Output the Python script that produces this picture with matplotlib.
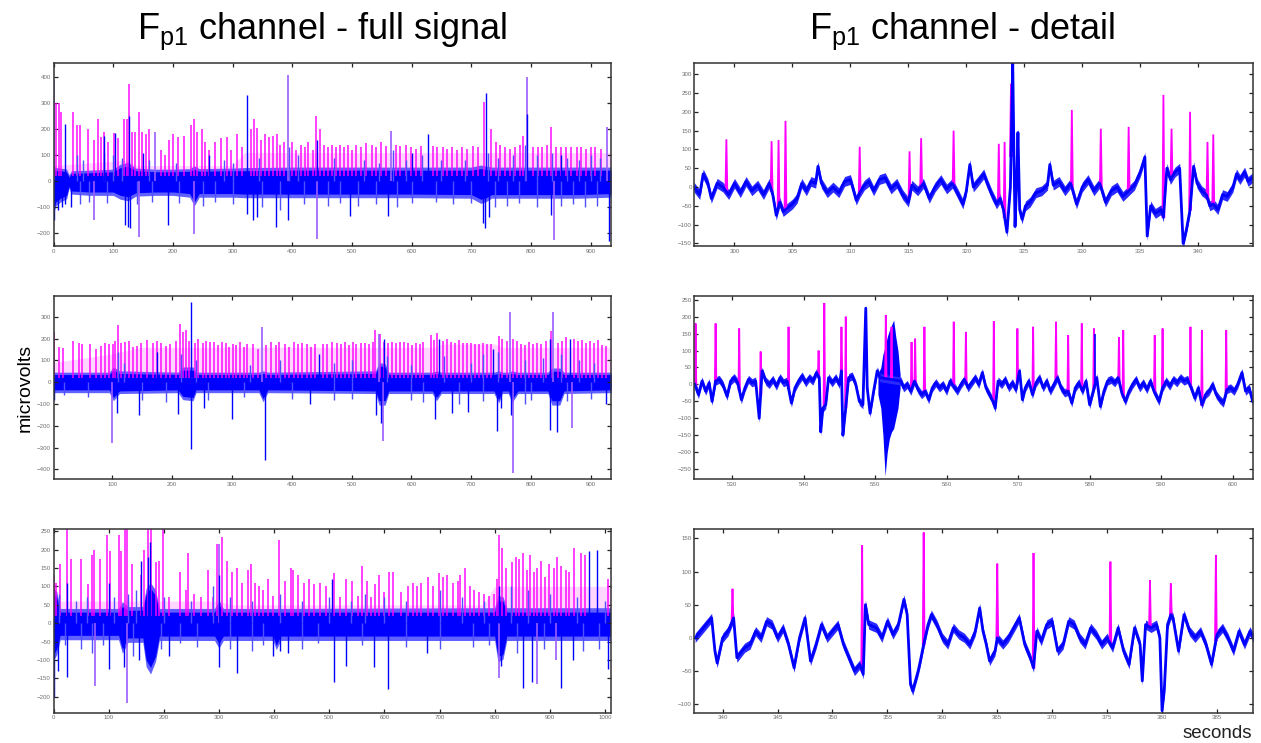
import numpy as np
import matplotlib
matplotlib.use("Agg")
import matplotlib.pyplot as plt

plt.rcParams['font.family'] = ['Liberation Sans', 'DejaVu Sans']
plt.rcParams['mathtext.fontset'] = 'custom'
plt.rcParams['mathtext.rm'] = 'Liberation Sans'
plt.rcParams['mathtext.it'] = 'Liberation Sans'

# ---------------- full-signal panel 1 (top left) ----------------
pk1_t = [5, 10, 13, 32, 39, 45, 58, 68, 74, 80, 84, 92, 102, 108, 118, 123, 127, 132, 137, 143,
         148, 155, 160, 180, 187, 193, 200, 209, 218, 231, 236, 241, 248, 254, 261, 271, 281, 291, 298, 308,
         316, 331, 336, 341, 348, 354, 361, 367, 374, 380, 386, 399, 406, 414, 421, 427, 434, 439, 446, 454,
         460, 467, 474, 480, 487, 494, 500, 507, 515, 524, 534, 540, 548, 557, 573, 581, 590, 599, 607, 615,
         635, 643, 652, 660, 668, 676, 685, 693, 703, 712, 721, 733, 741, 748, 756, 765, 773, 781, 787, 803,
         811, 819, 826, 834, 842, 851, 859, 867, 877, 884, 892, 900, 908, 917]
pk1_h = [300, 300, 265, 265, 215, 215, 200, 160, 240, 170, 190, 150, 185, 165, 240, 240, 375, 190, 190, 265,
         190, 180, 200, 120, 100, 160, 180, 170, 175, 215, 240, 190, 200, 150, 120, 150, 165, 170, 120, 180,
         130, 200, 240, 205, 160, 180, 170, 175, 180, 140, 150, 150, 120, 140, 130, 150, 120, 250, 200, 140,
         130, 140, 130, 140, 130, 140, 120, 140, 130, 145, 140, 130, 150, 135, 140, 135, 140, 130, 125, 135,
         135, 130, 130, 125, 130, 120, 130, 125, 135, 130, 305, 200, 150, 140, 130, 125, 130, 140, 175, 130,
         130, 130, 140, 210, 130, 130, 130, 130, 130, 130, 125, 130, 130, 125]
pu1_t = [0, 170, 393, 565, 793, 928, 68, 143, 235, 442, 838]
pu1_v = [390, 190, 408, 195, 401, 210, -150, -215, -205, -225, -227]
bl1_t = [19, 84, 103, 127, 324, 442, 627, 725, 793, 0, 8, 15, 20, 30, 120, 125, 128, 191, 325,
         335, 341, 372, 393, 496, 560, 720, 723, 730, 833, 930, 150, 260, 600, 850]
bl1_v = [220, 175, 185, 250, 330, 160, 180, 340, 260, -150, -110, -100, -90, -100, -170, -175, -180, -170, -125,
         -150, -140, -175, -150, -135, -135, -160, -180, -140, -130, -230, 110, 100, 110, 100]
bx1_t = [40, 50, 85, 100, 115, 160, 205, 285, 300, 345, 395, 410, 470, 520, 545, 568, 590, 618, 650, 690,
         728, 745, 770, 790, 810, 835, 860, 880, 900, 915,
         45, 60, 90, 140, 165, 210, 250, 270, 300, 350, 380, 420, 460, 480, 510, 540, 575, 600, 640, 670,
         700, 740, 760, 780, 810, 850, 870, 890, 910]
bx1_v = [100, 80, 110, 100, 90, 80, 70, 80, 70, 90, 130, 100, 90, 80, 70, 120, 80, 100, 80, 80,
         110, 90, 100, 140, 100, 110, 90, 80, 100, 90,
         -90, -80, -85, -90, -80, -85, -95, -80, -90, -100, -110, -90, -95, -85, -95, -90, -100, -85, -80, -90,
         -85, -100, -95, -85, -100, -95, -90, -100, -95]
e1_t = [0, 4, 12, 22, 26, 30, 60, 100, 112, 125, 138, 170, 200, 228, 236, 244, 300, 320, 400, 500,
        600, 700, 716, 724, 734, 800, 880, 934]
c1_hi = [45, 40, 40, 35, 15, 30, 32, 36, 52, 58, 40, 36, 36, 38, 45, 38, 40, 40, 42, 42, 42, 42, 48, 45, 42, 42, 42, 42]
c1_lo = [-110, -80, -65, -55, -20, -38, -42, -42, -55, -60, -45, -42, -42, -48, -80, -48, -48, -50, -50, -50,
         -50, -52, -70, -65, -52, -52, -52, -48]
f1_hi = [58, 52, 50, 46, 24, 40, 42, 46, 65, 72, 50, 46, 46, 48, 58, 48, 50, 52, 54, 54, 54, 54, 62, 58, 54, 54, 54, 54]
f1_lo = [-125, -95, -80, -68, -28, -50, -55, -55, -70, -76, -58, -55, -55, -62, -95, -62, -62, -64, -64, -64,
         -64, -66, -86, -80, -66, -66, -66, -62]
pf1_t = [0, 120, 140, 300, 320, 934]
pf1_h = [60, 80, 60, 60, 110, 110]

# ---------------- full-signal panel 2 (middle left) ----------------
pk3_t = [3, 11, 17, 34, 44, 50, 62, 72, 81, 88, 95, 101, 105, 110, 115, 121, 128, 134, 141, 148,
         158, 168, 174, 181, 189, 197, 207, 214, 218, 223, 229, 238, 243, 251, 257, 263, 270, 276, 283, 290,
         295, 302, 307, 314, 320, 326, 335, 343, 357, 366, 373, 379, 388, 396, 404, 411, 417, 426, 432, 439,
         452, 459, 467, 475, 482, 489, 496, 502, 508, 515, 522, 529, 535, 539, 548, 555, 561, 568, 574, 581,
         587, 594, 601, 607, 614, 620, 632, 637, 642, 652, 659, 666, 673, 679, 686, 693, 700, 706, 713, 719,
         726, 733, 746, 752, 759, 770, 777, 783, 790, 796, 803, 810, 816, 825, 833, 845, 852, 859, 872, 879,
         885, 892, 899, 905, 912, 919, 926]
pk3_h = [230, 160, 155, 190, 180, 175, 175, 150, 165, 180, 175, 175, 190, 260, 180, 185, 190, 160, 165, 180,
         195, 180, 190, 180, 165, 175, 190, 265, 230, 240, 190, 180, 200, 180, 190, 185, 185, 170, 185, 180,
         160, 175, 170, 185, 160, 175, 175, 150, 170, 185, 170, 185, 175, 160, 185, 175, 180, 175, 160, 175,
         175, 175, 185, 180, 175, 185, 170, 185, 175, 180, 180, 175, 185, 240, 220, 185, 180, 185, 180, 185,
         185, 180, 170, 180, 175, 185, 215, 195, 225, 190, 200, 185, 180, 195, 180, 180, 180, 175, 175, 180,
         175, 175, 210, 200, 190, 200, 190, 175, 170, 185, 175, 180, 175, 190, 235, 180, 190, 205, 200, 190,
         195, 180, 190, 180, 195, 170, 165]
pu3_t = [351, 545, 764, 837, 100, 553, 770, 868]
pu3_v = [255, 220, 320, 320, -280, -268, -415, -210]
bl3_t = [232, 446, 646, 737, 832, 865, 2, 108, 145, 210, 232, 253, 300, 355, 430, 540,
         550, 640, 668, 695, 743, 750, 766, 832, 843, 925, 175, 555]
bl3_v = [368, 130, 200, 150, 200, 200, -80, -140, -150, -145, -305, -120, -170, -355, -100, -150,
         -185, -170, -140, -135, -225, -120, -150, -220, -230, -100, 140, 200]
bx3_t = [110, 120, 215, 240, 330, 380, 470, 500, 560, 600, 655, 700, 720, 745, 790, 820, 850, 880, 905,
         20, 60, 150, 190, 260, 320, 400, 470, 500, 600, 620, 680, 720, 790, 800, 860, 900]
bx3_v = [140, 90, 130, 100, 80, 100, 90, 100, 120, 80, 120, 90, 130, 140, 100, 110, 130, 100, 90,
         -60, -70, -80, -90, -80, -70, -75, -80, -75, -80, -90, -100, -85, -100, -80, -85, -75]
e3_t = [2, 95, 102, 112, 210, 218, 235, 240, 345, 352, 360, 540, 546, 556, 562, 635, 642, 650, 738, 746,
        752, 762, 768, 778, 828, 835, 848, 855, 934]
c3_hi = [35, 35, 55, 40, 35, 55, 55, 35, 35, 40, 35, 40, 75, 70, 35, 35, 40, 35, 35, 40, 35, 35, 40, 35, 35, 50, 50, 35, 35]
c3_lo = [-35, -35, -70, -40, -35, -65, -70, -35, -35, -75, -35, -40, -85, -85, -40, -40, -70, -40, -40, -80,
         -40, -40, -80, -40, -40, -85, -85, -40, -35]
f3_hi = [46, 46, 70, 52, 46, 70, 70, 46, 46, 52, 46, 52, 90, 85, 46, 46, 52, 46, 46, 52, 46, 46, 52, 46, 46, 65, 65, 46, 46]
f3_lo = [-48, -48, -85, -52, -48, -80, -85, -48, -48, -90, -48, -52, -105, -105, -52, -52, -85, -52, -52, -95,
         -52, -52, -95, -52, -52, -105, -105, -52, -48]
pf3_t = [2, 100, 150, 640, 650, 740, 750, 934]
pf3_h = [90, 130, 160, 160, 175, 175, 160, 160]

# ---------------- full-signal panel 3 (bottom left) ----------------
pk5_t = [1, 4, 11, 25, 32, 49, 62, 70, 74, 84, 97, 103, 118, 122, 129, 133, 143, 158, 165, 172,
         176, 186, 191, 199, 210, 229, 240, 244, 254, 267, 280, 290, 297, 305, 315, 323, 332, 342, 353, 359,
         366, 373, 380, 389, 398, 409, 419, 430, 435, 444, 455, 464, 473, 484, 495, 509, 520, 530, 541, 552,
         559, 568, 575, 583, 590, 600, 609, 616, 631, 642, 652, 659, 667, 679, 688, 699, 706, 713, 724, 733,
         738, 746, 756, 763, 771, 781, 789, 798, 805, 808, 814, 821, 832, 839, 844, 851, 858, 864, 871, 877,
         884, 891, 898, 907, 913, 920, 930, 935, 943, 956, 963, 1006]
pk5_h = [130, 110, 160, 270, 175, 175, 105, 185, 200, 175, 240, 195, 240, 195, 270, 270, 160, 130, 200, 270,
         270, 165, 170, 270, 70, 140, 90, 190, 80, 70, 145, 70, 215, 235, 170, 140, 150, 110, 145, 160,
         110, 100, 90, 120, 75, 225, 115, 150, 145, 130, 110, 120, 105, 110, 100, 135, 70, 120, 115, 75,
         155, 115, 70, 105, 130, 85, 140, 140, 85, 100, 110, 100, 110, 125, 100, 135, 125, 130, 110, 115,
         130, 150, 100, 90, 85, 80, 75, 80, 120, 240, 205, 150, 165, 180, 175, 190, 145, 185, 140, 150,
         170, 125, 160, 150, 180, 155, 145, 140, 205, 190, 185, 120]
pu5_t = [300, 75, 133, 808, 876, 912]
pu5_v = [215, -170, -217, -150, -165, -100]
bl5_t = [158, 971, 986, 175, 172, 0, 8, 25, 100, 128, 155, 210, 300, 332, 398,
         410, 426, 508, 530, 582, 607, 678, 812, 851, 868, 920, 942, 1006, 24, 100, 300, 505, 808]
bl5_v = [170, 195, 200, 220, 180, -200, -130, -145, -125, -120, -100, -90, -120, -135, -90,
         -75, -80, -160, -115, -120, -180, -80, -115, -175, -160, -175, -100, -125, 110, 110, 130, 120, 100]
bx5_t = [10, 40, 60, 110, 135, 150, 200, 250, 290, 320, 360, 410, 450, 500, 540, 565, 600, 640, 700, 740,
         780, 830, 860, 900, 950, 1000,
         20, 50, 70, 90, 145, 195, 230, 260, 320, 360, 380, 450, 480, 560, 640, 700, 760, 790, 840, 890, 960, 990]
bx5_v = [80, 60, 70, 70, 80, 90, 70, 60, 100, 70, 60, 80, 60, 70, 60, 80, 70, 60, 90, 70,
         60, 100, 90, 80, 70, 60,
         -60, -70, -80, -60, -90, -70, -55, -65, -70, -75, -60, -70, -55, -60, -65, -70, -65, -60, -80, -70, -75, -70]
e5_t = [0, 6, 12, 118, 125, 135, 162, 168, 176, 185, 192, 292, 300, 308, 398, 404, 412, 800, 806, 815, 822, 1010]
c5_hi = [80, 70, 30, 30, 45, 35, 35, 80, 95, 75, 30, 30, 50, 30, 30, 30, 30, 30, 60, 60, 30, 30]
c5_lo = [-85, -70, -33, -33, -70, -40, -40, -100, -120, -90, -35, -35, -55, -35, -35, -60, -35, -35, -90, -85, -35, -35]
f5_hi = [95, 85, 40, 40, 58, 45, 45, 95, 110, 90, 40, 40, 62, 40, 40, 40, 40, 42, 75, 72, 42, 42]
f5_lo = [-100, -85, -45, -45, -82, -52, -52, -118, -138, -104, -47, -47, -68, -47, -47, -72, -47, -47, -105, -98, -47, -47]
pf5_t = [0, 300, 320, 780, 800, 1010]
pf5_h = [60, 60, 50, 50, 100, 100]

# ---------------- detail panel 1 (top right) ----------------
d1_t = [296.5, 297.0, 297.3, 297.7, 298.0, 298.5, 299.0, 299.5, 300.0, 300.5,
        301.0, 301.5, 302.0, 302.5, 303.0, 303.3, 303.6, 303.9, 304.2, 304.6,
        305.0, 305.4, 305.8, 306.2, 306.6, 307.0, 307.2, 307.5, 308.0, 308.5,
        309.0, 309.5, 310.0, 310.5, 310.8, 311.2, 311.6, 312.0, 312.5, 313.0,
        313.5, 314.0, 314.5, 315.0, 315.3, 315.8, 316.3, 316.8, 317.3, 317.8,
        318.3, 318.8, 319.3, 319.7, 320.0, 320.3, 320.6, 321.0, 321.5, 321.8,
        322.2, 322.6, 322.9, 323.2, 323.5, 323.8, 324.0, 324.1, 324.2, 324.35,
        324.45, 324.6, 324.8, 325.1, 325.5, 326.0, 326.5, 327.0, 327.2, 327.5,
        328.0, 328.5, 329.0, 329.5, 330.0, 330.5, 331.0, 331.5, 332.0, 332.5,
        333.0, 333.5, 334.0, 334.5, 335.0, 335.4, 335.6, 335.9, 336.3, 336.8,
        337.0, 337.3, 337.6, 338.0, 338.4, 338.7, 339.0, 339.3, 339.6, 339.9,
        340.3, 340.7, 341.0, 341.3, 341.7, 342.1, 342.5, 343.0, 343.3, 343.6,
        344.0, 344.3, 344.7]
d1_v = [0, -20, 35, 10, -30, 10, 0, -20, 10, -15,
        15, -10, 5, -20, 10, -20, -75, -40, -65, -55,
        -45, -30, 10, -10, 15, 10, 55, 10, -15, 0,
        -15, 15, 20, -35, -15, 5, 15, -10, 20, 25,
        -5, 10, -20, -40, 5, -10, 10, -30, 0, 20,
        -5, 10, -20, -45, -10, 60, 0, 15, 35, 10,
        -20, -45, -30, -60, -120, 0, 330, 100, -105, 20,
        145, -60, -85, -50, -40, -15, -10, 5, 60, 5,
        15, -10, 10, -45, 0, 20, -10, 10, -40, -10,
        0, -25, -10, 5, 40, 80, -130, -50, -70, -60,
        -80, 50, 20, 40, 50, -150, -110, -60, 55, 10,
        -10, -20, -50, -45, -60, -20, -25, 0, 35, 20,
        40, 15, 25]
s1_t = [299.3, 303.2, 303.8, 304.4, 310.8, 315.1, 316.1, 318.9, 322.8, 323.3, 323.85, 329.1, 331.6, 334.0,
        337.0, 337.7, 339.3, 340.8, 341.3]
s1_h = [127, 122, 125, 176, 107, 95, 130, 150, 115, 120, 275, 205, 155, 160, 245, 155, 200, 120, 140]

# ---------------- detail panel 2 (middle right) ----------------
d2_t = [524.8, 525.3, 525.8, 526.3, 526.8, 527.2, 527.7, 528.2, 528.7, 529.3,
        529.8, 530.3, 530.8, 531.3, 531.8, 532.3, 532.8, 533.3, 533.8, 534.2,
        534.7, 535.2, 535.7, 536.2, 536.7, 537.2, 537.7, 538.3, 538.8, 539.3,
        539.8, 540.3, 540.8, 541.3, 541.8, 542.2, 542.4, 542.7, 543.1, 543.5,
        544.0, 544.5, 545.0, 545.3, 545.5, 545.8, 546.3, 546.8, 547.3, 547.8,
        548.3, 548.7, 548.9, 549.3, 549.8, 550.3, 550.7, 553.6, 554.0, 554.5,
        555.0, 555.5, 556.0, 556.5, 557.0, 557.5, 558.0, 558.5, 559.0, 559.5,
        560.0, 560.5, 561.0, 561.5, 562.0, 562.5, 563.0, 563.5, 564.0, 564.5,
        565.0, 565.5, 566.0, 566.5, 566.8, 567.2, 567.7, 568.2, 568.7, 569.2,
        569.7, 570.2, 570.6, 571.0, 571.5, 572.0, 572.5, 573.0, 573.5, 574.0,
        574.5, 575.0, 575.5, 576.0, 576.5, 577.0, 577.5, 578.0, 578.5, 579.0,
        579.5, 580.0, 580.5, 581.0, 581.5, 582.0, 582.5, 583.0, 583.5, 584.0,
        584.5, 585.0, 585.5, 586.0, 586.5, 587.0, 587.5, 588.0, 588.5, 589.0,
        589.7, 590.2, 590.7, 591.2, 591.7, 592.2, 592.7, 593.2, 593.7, 594.2,
        594.7, 595.2, 595.7, 596.2, 596.7, 597.2, 597.7, 598.2, 598.7, 599.2,
        599.7, 600.2, 600.7, 601.3, 601.8, 602.3, 602.8]
d2_v = [0, -30, 10, -20, 5, -50, 10, 15, 0, -35,
        10, 20, 5, -45, -10, 15, 5, 10, -100, 40,
        10, 0, 15, -5, 20, 5, 10, -55, -10, 10,
        25, 5, 20, 10, 35, 20, -140, -70, -60, 20,
        5, 20, 0, 40, -150, -90, 20, 25, 0, -50,
        -60, 225, -10, -85, -20, 40, 20, 10, -10, 0,
        -20, 10, -15, -30, -20, -45, -10, 5, -10, 0,
        -20, 10, -5, -20, 0, 15, -10, 5, 20, 0,
        35, -10, -30, -50, -70, 10, 0, 15, -10, 5,
        -15, 40, -45, -10, 10, -30, 5, 20, -10, 10,
        -20, 0, 20, -10, -25, -20, -55, -10, 5, -20,
        10, -60, -20, 20, -65, -20, 10, 15, 5, 20,
        -25, -50, -20, 0, 15, -10, 5, -15, 10, -20,
        -50, -10, 10, -5, 15, 5, 20, 10, 15, -10,
        -40, -10, -60, -30, -20, 0, -30, -45, -55, -15,
        -10, -20, 0, 35, -20, -10, -50]
s2_t = [524.9, 527.7, 531.0, 534.0, 537.9, 542.1, 542.9, 545.3, 545.9, 551.5, 552.3, 555.1, 555.6, 556.9, 561.0,
        562.7, 566.6, 569.9, 572.1, 575.3, 577.0, 578.9, 580.6, 584.1, 584.7, 589.1, 590.2, 594.1, 595.7, 599.1]
s2_h = [180, 180, 165, 97, 170, 100, 240, 170, 200, 205, 170, 125, 135, 170, 185,
        155, 187, 165, 170, 185, 145, 180, 165, 140, 160, 145, 165, 170, 160, 160]
b2_t = [550.4, 550.8, 551.1, 551.4, 551.7, 552.0, 552.3, 552.6, 552.9, 553.2, 553.5]
b2_lo = [-30, -70, -150, -270, -200, -160, -140, -130, -100, -70, -10]
b2_hi = [30, 50, 90, 110, 140, 160, 175, 190, 140, 100, 30]
db2_t = [580.7]
db2_v = [150]

# ---------------- detail panel 3 (bottom right) ----------------
d3_t = [337.5, 338.0, 338.5, 339.0, 339.3, 339.5, 340.0, 340.5, 341.0, 341.3,
        342.0, 342.5, 343.0, 343.5, 344.0, 344.5, 345.0, 345.5, 346.0, 346.5,
        347.0, 347.5, 348.0, 348.5, 349.0, 349.5, 350.0, 350.5, 351.0, 351.5,
        352.0, 352.5, 352.8, 353.0, 353.3, 354.0, 354.5, 355.0, 355.5, 356.0,
        356.5, 356.8, 357.1, 357.3, 357.8, 358.0, 358.3, 358.7, 359.0, 359.5,
        360.0, 360.5, 361.0, 361.5, 362.0, 362.5, 363.0, 363.4, 363.7, 364.0,
        364.3, 364.8, 365.0, 365.5, 366.0, 366.5, 367.0, 367.5, 368.0, 368.3,
        368.6, 369.0, 369.5, 370.0, 370.5, 371.0, 371.5, 372.0, 372.5, 373.0,
        373.5, 374.0, 374.5, 375.0, 375.5, 376.0, 376.5, 377.0, 377.5, 378.0,
        378.2, 378.5, 379.0, 379.5, 379.8, 380.0, 380.2, 380.5, 380.8, 381.0,
        381.5, 382.0, 382.5, 383.0, 383.5, 384.0, 384.5, 385.0, 385.5, 386.0,
        386.5, 387.0, 387.5, 388.0, 388.3]
d3_v = [0, 10, 20, 30, -20, -38, 0, 10, 30, -30,
        -15, -10, 10, 0, 25, 20, 0, 15, -10, -45,
        0, 30, -35, -10, 20, 0, 10, 20, -10, -30,
        -50, -40, -55, 50, 20, 15, 0, 25, 5, 20,
        58, 35, -70, -80, -50, -35, -10, 20, 35, 20,
        0, -10, 15, 5, 0, -10, 10, 45, 10, -10,
        -35, -20, 0, -10, 0, 15, 30, -10, -30, -45,
        10, -5, 20, 25, -20, -10, 25, 20, 0, -10,
        15, 5, -10, 0, -15, 15, -20, -40, 15, -10,
        -65, 20, 15, 20, 0, -110, -80, 20, 35, 30,
        -20, 35, 10, 0, 10, -10, -40, 5, 15, 0,
        -20, 10, -10, 10, 0]
s3_t = [340.9, 352.7, 358.3, 365.0, 368.3, 375.3, 378.9, 380.8, 384.9]
s3_h = [74, 140, 159, 112, 128, 115, 87, 82, 125]

BLUE = '#0000ff'
MAG = '#ff00ff'
PURPLE = '#9a5cff'
FRINGE = '#5050ff'


def style_ax(ax, xlim, ylim, xticks, yticks):
    ax.set_xlim(*xlim)
    ax.set_ylim(*ylim)
    ax.set_xticks(xticks)
    ax.set_yticks(yticks)
    ax.tick_params(direction='in', length=3.2, width=0.9, labelsize=4.4, labelcolor='#707070',
                   top=True, right=True, pad=2, color='#222222')
    for s in ax.spines.values():
        s.set_color('#333333')
        s.set_linewidth(1.1)


def draw_full(ax, pk_t, pk_h, pu_t, pu_v, bl_t, bl_v, bx_t, bx_v, e_t, c_lo, c_hi, f_lo, f_hi, pf_t, pf_h):
    ax.fill_between(pf_t, 20, pf_h, color=MAG, alpha=0.16, lw=0)
    ax.vlines(pk_t, 20, pk_h, color=MAG, lw=1.1, alpha=0.95)
    ax.fill_between(e_t, f_lo, f_hi, color=FRINGE, lw=0, alpha=0.9)
    ax.vlines(bx_t, 0, bx_v, color=FRINGE, lw=1.0)
    ax.fill_between(e_t, c_lo, c_hi, color=BLUE, lw=0)
    ax.vlines(pu_t, 0, pu_v, color=PURPLE, lw=1.2)
    ax.vlines(bl_t, 0, bl_v, color=BLUE, lw=1.0)


def draw_detail(ax, tr_t, tr_v, sp_t, sp_h, w, hw):
    tr_t = np.asarray(tr_t, float)
    tr_v = np.asarray(tr_v, float)
    base = np.interp(sp_t, tr_t, tr_v)
    for t, h, b in zip(sp_t, sp_h, base):
        ax.plot([t - w, t, t + w], [b, h, b], color=MAG, lw=1.3, solid_joinstyle='miter')
    ax.fill_between(tr_t, tr_v - hw, tr_v + hw, color='#2a2aff', lw=0)
    ax.plot(tr_t, tr_v, color=BLUE, lw=2.0)


fig = plt.figure(figsize=(12.61, 7.43), dpi=100)
L, LW = 0.04243, 0.44211
R, RW = 0.55075, 0.44266
rows = [(0.66824, 0.24657), (0.35491, 0.2467), (0.04078, 0.24791)]

ax1 = fig.add_axes([L, rows[0][0], LW, rows[0][1]])
draw_full(ax1, pk1_t, pk1_h, pu1_t, pu1_v, bl1_t, bl1_v, bx1_t, bx1_v, e1_t, c1_lo, c1_hi, f1_lo, f1_hi, pf1_t, pf1_h)
style_ax(ax1, (0, 934), (-252, 454), np.arange(0, 901, 100), np.arange(-200, 401, 100))

ax3 = fig.add_axes([L, rows[1][0], LW, rows[1][1]])
draw_full(ax3, pk3_t, pk3_h, pu3_t, pu3_v, bl3_t, bl3_v, bx3_t, bx3_v, e3_t, c3_lo, c3_hi, f3_lo, f3_hi, pf3_t, pf3_h)
style_ax(ax3, (1.8, 933.6), (-445, 395), np.arange(100, 901, 100), np.arange(-400, 301, 100))

ax5 = fig.add_axes([L, rows[2][0], LW, rows[2][1]])
draw_full(ax5, pk5_t, pk5_h, pu5_t, pu5_v, bl5_t, bl5_v, bx5_t, bx5_v, e5_t, c5_lo, c5_hi, f5_lo, f5_hi, pf5_t, pf5_h)
style_ax(ax5, (0, 1011), (-243, 257), np.arange(0, 1001, 100), np.arange(-200, 251, 50))

ax2 = fig.add_axes([R, rows[0][0], RW, rows[0][1]])
draw_detail(ax2, d1_t, d1_v, s1_t, s1_h, 0.08, 13)
style_ax(ax2, (296.55, 344.7), (-158, 329), np.arange(300, 341, 5), np.arange(-150, 301, 50))

ax4 = fig.add_axes([R, rows[1][0], RW, rows[1][1]])
ax4.fill_between(b2_t, b2_lo, b2_hi, color=BLUE, lw=0)
draw_detail(ax4, d2_t, d2_v, s2_t, s2_h, 0.1, 12)
ax4.vlines(db2_t, 0, db2_v, color=BLUE, lw=1.2)
style_ax(ax4, (524.75, 602.8), (-280, 261), np.arange(530, 601, 10), np.arange(-250, 251, 50))

ax6 = fig.add_axes([R, rows[2][0], RW, rows[2][1]])
draw_detail(ax6, d3_t, d3_v, s3_t, s3_h, 0.08, 7)
style_ax(ax6, (337.44, 388.25), (-113, 165), np.arange(340, 386, 5), np.arange(-100, 151, 50))

fig.text(322 / 1261, 1 - 31 / 743, r'F$_{\rm p1}$ channel - full signal', ha='center', va='center', fontsize=26)
fig.text(962 / 1261, 1 - 31 / 743, r'F$_{\rm p1}$ channel - detail', ha='center', va='center', fontsize=26)
fig.text(25 / 1261, 1 - 388 / 743, 'microvolts', rotation=90, ha='center', va='center', fontsize=14)
fig.text(1252 / 1261, 1 - 733 / 743, 'seconds', ha='right', va='center', fontsize=13.5, color='#222222')

fig.savefig('out.png', dpi=100)
